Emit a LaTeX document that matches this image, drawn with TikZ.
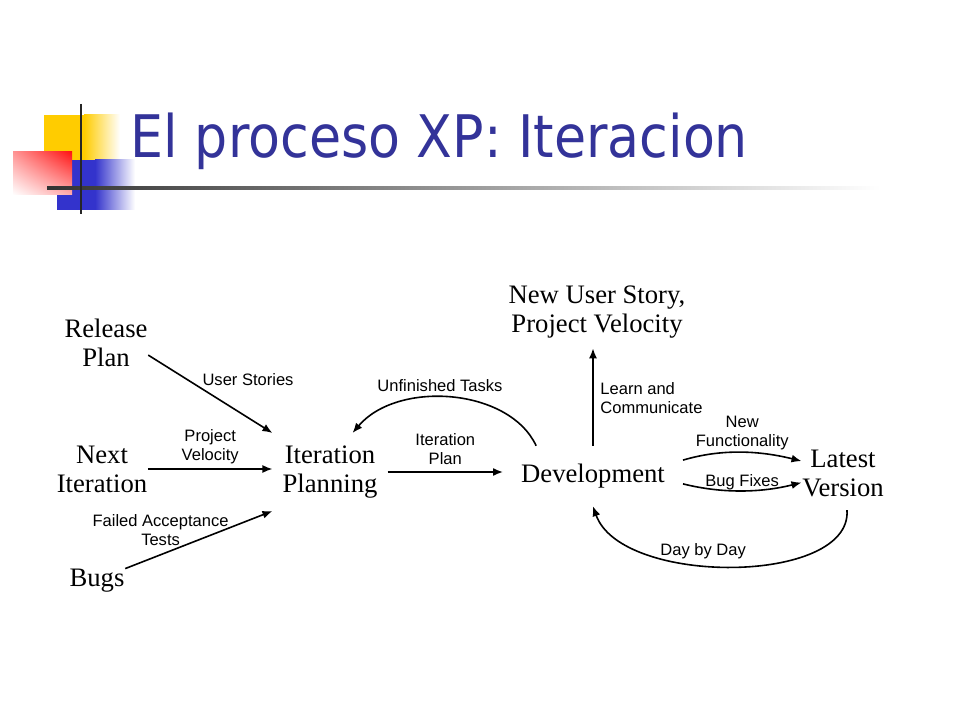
\documentclass[tikz,border=0pt]{standalone}
\usepackage{fontspec}
\setmainfont{Liberation Serif}
\newfontfamily\labelfont{Liberation Sans}
\newfontfamily\titlefont[FakeStretch=0.89]{DejaVu Sans}
\usepackage{tikz}
\usetikzlibrary{arrows.meta,shadings}
\usetikzlibrary{positioning}
\definecolor{titleblue}{RGB}{51,51,153}
\definecolor{pixyellow}{RGB}{255,204,0}
\definecolor{pixblue}{RGB}{51,51,204}
\definecolor{pixred}{RGB}{255,20,20}
\tikzstyle{stage} = [align=center,inner sep=0pt,font=\fontsize{20}{21.75}\selectfont]
\tikzstyle{flow}  = [align=center,inner sep=1pt,font=\labelfont\fontsize{12.4}{14.2}\selectfont]

\begin{document}
\begin{tikzpicture}[->,>={Latex[length=7.5pt,width=6pt]},line width=1.2pt,x=0.75pt,y=-0.75pt]
\useasboundingbox[fill=white] (0,0) rectangle (960,720);

% logo and title
\fill[pixyellow] (44,115) rectangle (85,160);
\shade[left color=pixyellow, right color=white] (84,115) rectangle (120,160);
\fill[pixblue] (57,160) rectangle (96,210);
\shade[left color=pixblue, right color=white] (95,160) rectangle (135,210);
\shade[upper right=pixred, upper left=pixred!45, lower left=white, lower right=pixred!35] (13,152) rectangle (72,195);
\shade[left color=black!80, middle color=black!25, right color=white] (47,186.5) rectangle (880,189.5);
\draw[-,line width=2.2pt,black!85] (81,104) -- (81,214);
\node[anchor=base west,inner sep=0pt,text=titleblue,font=\titlefont\fontsize{44}{50}\selectfont] (title) at (130,158) {El proceso XP: Iteracion};

\node[stage] (rel)  at (106,343) {Release\\Plan};
\node[stage] (next) at (102,469) {Next\\Iteration};
\node[stage] (bugs) at (97,581)  {Bugs};
\node[stage,inner xsep=7pt,inner ysep=9pt] (ip) at (330,472) {Iteration\\Planning};
\node[stage,inner sep=13pt] (dev) at (593,476) {Development};
\node[stage] (lv)   at (843,473) {Latest\\Version};
\node[stage] (nus)  at (597,312) {New User Story,\\Project Velocity};

\path
	(rel.-16) edge node[flow,pos=0.42,anchor=south west] {User Stories} (ip.north west)
	(next.east) edge node[flow,above=2pt] {Project\\Velocity} (next.east -| ip.west)
	(bugs.north east) edge node[flow,pos=0.24,above=5pt] {Failed Acceptance\\Tests} (ip.south west)
	(ip.east) edge node[flow,above=4pt] {Iteration\\Plan} (ip.east -| dev.west)
	(dev.north) edge[shorten >=7pt] node[flow,pos=0.45,right=4pt,align=left] {Learn and\\Communicate} (dev.north |- nus.south);

\draw (dev.152) .. controls +(-27,-58) and +(45,-53) .. node[flow,pos=0.55,above=3pt] {Unfinished Tasks} (ip.60);
\draw (dev.10) .. controls +(40,-12) and +(-40,-10) .. node[flow,midway,above] {New\\Functionality} (lv.164);
\draw (dev.-5) .. controls +(40,10) and +(-40,10) .. node[flow,midway,above,inner sep=0pt] {Bug Fixes} (lv.193);
\draw ([shift={(4,13)}]lv.south) .. controls +(5,75) and +(28,80) .. node[flow,pos=0.58,above=3pt] {Day by Day} (dev.south);

\end{tikzpicture}
\end{document}
